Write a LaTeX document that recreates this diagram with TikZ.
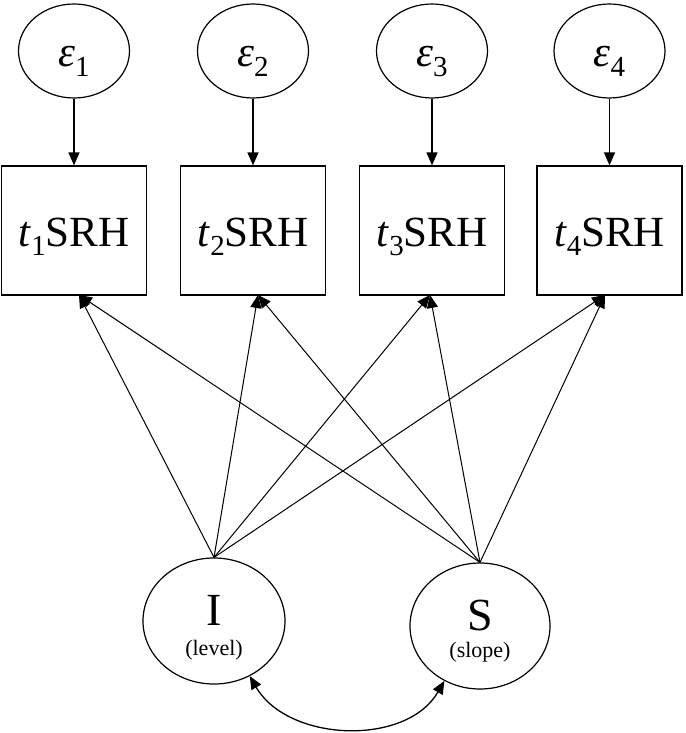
\documentclass[tikz,border=0pt]{standalone}
\usepackage{fontspec}
\setmainfont{Liberation Serif}
\usetikzlibrary{shapes.geometric,arrows.meta}
\tikzset{
  err/.style={ellipse,draw,line width=1.2pt,minimum width=111pt,minimum height=94pt,inner sep=0pt,font=\fontsize{43}{44}\selectfont},
  obs/.style={rectangle,draw,line width=1.2pt,minimum width=145pt,minimum height=129pt,inner sep=0pt,font=\fontsize{43}{44}\selectfont},
  lat/.style={ellipse,draw,line width=1.2pt,minimum width=142pt,minimum height=126pt,inner sep=0pt},
  big/.style={anchor=base,inner sep=0pt,font=\fontsize{46}{46}\selectfont},
  small/.style={anchor=base,inner sep=0pt,font=\fontsize{22}{22}\selectfont},
  arr/.style={line width=1.3pt,-{Triangle[length=13pt,width=11pt]}},
  loadarr/.style={line width=1pt,-{Triangle[length=13pt,width=11pt]}},
  cov/.style={line width=1.3pt,{Triangle[length=13pt,width=11pt]}-{Triangle[length=13pt,width=11pt]}}
}
\newcommand{\sbt}[1]{\raisebox{-0.22em}{\fontsize{29}{29}\selectfont #1}}
\newcommand{\low}[2]{\raisebox{-#1}[0pt][0pt]{#2}}
\begin{document}
\begin{tikzpicture}[x=1pt,y=-1pt]
\useasboundingbox (0,0) rectangle (685,733);
% error terms
\node[err] (e1) at (74,51) {\low{16pt}{\textit{ε}\sbt{1}}};
\node[err] (e2) at (253,51) {\low{16pt}{\textit{ε}\sbt{2}}};
\node[err] (e3) at (432,51) {\low{16pt}{\textit{ε}\sbt{3}}};
\node[err] (e4) at (609.5,51) {\low{16pt}{\textit{ε}\sbt{4}}};
% observed
\node[obs] (t1) at (74,230.5) {\low{16pt}{\textit{t}\sbt{1}SRH}};
\node[obs] (t2) at (253,230.5) {\low{16pt}{\textit{t}\sbt{2}SRH}};
\node[obs] (t3) at (432,230.5) {\low{16pt}{\textit{t}\sbt{3}SRH}};
\node[obs] (t4) at (609.5,230.5) {\low{16pt}{\textit{t}\sbt{4}SRH}};
% latent
\node[lat] (I) at (214,621) {};
\node[lat,minimum width=140pt] (S) at (480,626) {};
\node[big] (Ilab) at (214,625) {I};
\node[small] (Isub) at (214,655) {(level)};
\node[big] (Slab) at (480,630) {S};
\node[small] (Ssub) at (480,657) {(slope)};
% tips
\coordinate (p1) at (79,295);
\coordinate (p2) at (258,295);
\coordinate (p3) at (430,295);
\coordinate (p4) at (605,295);
% error arrows
\draw[arr] (e1) -- (t1);
\draw[arr] (e2) -- (t2);
\draw[arr] (e3) -- (t3);
\draw[arr] (e4) -- (t4);
% loadings
\foreach \p in {p1,p2,p3,p4}{
  \draw[loadarr] (I.north) -- (\p);
  \draw[loadarr] (S.north) -- (\p);
}
% covariance
\draw[cov] (I.-57) to[out=-60,in=-120] (S.-123);
\end{tikzpicture}
\end{document}
